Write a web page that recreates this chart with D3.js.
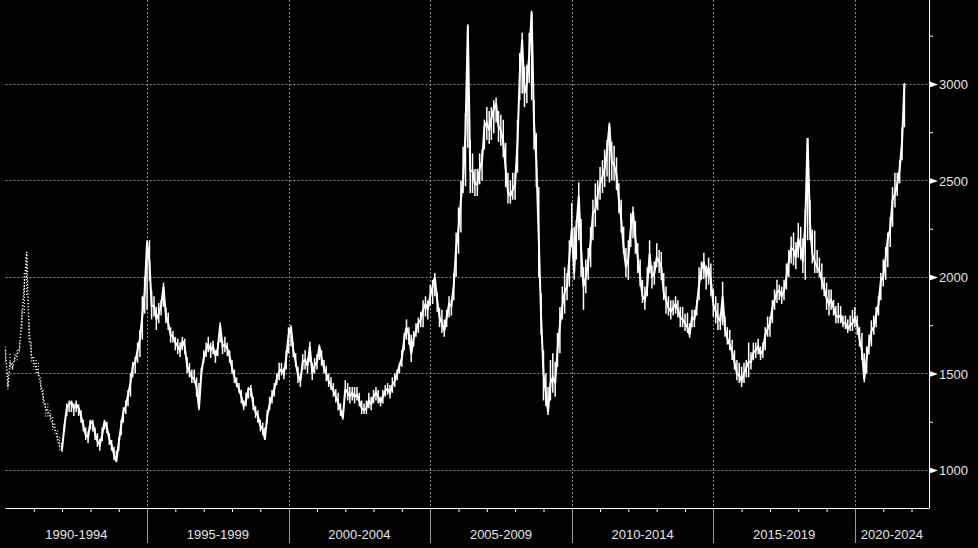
<!DOCTYPE html>
<html><head><meta charset="utf-8">
<script src="https://cdn.jsdelivr.net/npm/d3@7"></script>
<style>html,body{margin:0;padding:0;background:#000;overflow:hidden}</style>
</head><body>
<svg id="c" width="978" height="548"></svg>
<script>
// ---- data (monthly) ----
const firstMonth = "1990-01";
const monthlyPrice = [
  1620,1430,1560,1530,1580,1600,1630,1790,1960,2130,1720,1600, // 1990
  1560,1530,1500,1440,1380,1320,1300,1280,1240,1210,1170,1120, // 1991
  1110,1230,1320,1340,1350,1320,1340,1320,1280,1230,1180,1170, // 1992
  1250,1240,1190,1150,1130,1180,1250,1220,1160,1130,1080,1045, // 1993
  1140,1230,1300,1330,1390,1450,1540,1560,1620,1680,1800,1920, // 1994
  2180,2080,1850,1850,1780,1810,1850,1950,1800,1760,1700,1690, // 1995
  1660,1640,1620,1670,1640,1540,1510,1480,1470,1430,1320,1500, // 1996
  1580,1620,1650,1620,1640,1590,1630,1750,1640,1650,1630,1590, // 1997
  1530,1480,1450,1420,1380,1330,1360,1420,1420,1340,1300,1280, // 1998
  1230,1210,1160,1280,1340,1380,1420,1470,1510,1520,1500,1580, // 1999
  1700,1740,1620,1560,1490,1460,1560,1570,1540,1640,1500,1540, // 2000
  1560,1640,1580,1530,1500,1460,1440,1410,1380,1350,1310,1270, // 2001
  1420,1400,1380,1400,1380,1390,1360,1320,1310,1320,1360,1340, // 2002
  1380,1400,1380,1350,1380,1410,1420,1400,1440,1460,1500,1540, // 2003
  1580,1680,1740,1700,1600,1680,1720,1760,1780,1830,1860,1830, // 2004
  1900,1950,2000,1880,1790,1760,1720,1790,1860,1850,1960,2150, // 2005
  2250,2400,2500,2750,3300,2550,2550,2480,2480,2560,2600,2780, // 2006
  2800,2760,2820,2870,2900,2780,2760,2700,2560,2440,2420,2450, // 2007
  2480,2700,3050,3230,2950,3000,3150,3370,2800,2600,2200,1800, // 2008
  1500,1400,1300,1450,1480,1450,1620,1750,1850,1920,1950,2100, // 2009
  2250,2020,2250,2420,2150,1950,2000,2080,2180,2330,2350,2420, // 2010
  2480,2520,2560,2650,2790,2600,2580,2530,2400,2300,2150,2050, // 2011
  2100,2250,2340,2200,2100,2000,1900,1880,1950,2120,2000,2020, // 2012
  2100,2080,2050,1920,1880,1840,1820,1840,1860,1830,1790,1780, // 2013
  1760,1740,1700,1790,1780,1850,1960,2040,2080,2000,2050,1980, // 2014
  1860,1820,1790,1770,1900,1730,1680,1650,1610,1560,1500,1490, // 2015
  1460,1500,1530,1560,1560,1610,1620,1640,1600,1620,1700,1730, // 2016
  1760,1840,1880,1920,1930,1900,1930,2000,2080,2150,2140,2100, // 2017
  2200,2150,2080,2280,2720,2280,2120,2080,2050,2030,1980,1940, // 2018
  1890,1860,1880,1840,1800,1790,1800,1760,1760,1730,1750,1760, // 2019
  1790,1750,1680,1620,1470,1580,1650,1720,1740,1800,1860,1980, // 2020
  2000,2100,2200,2250,2400,2430,2480,2560,2700,3000            // 2021
];
// lowest and highest daily quote seen in each month
const monthlyLow = [
  1560,1415,1520,1520,1560,1560,1610,1730,1810,1900,1660,1560, // 1990
  1520,1500,1480,1415,1345,1275,1275,1260,1210,1190,1140,1095, // 1991
  1095,1200,1280,1300,1300,1280,1300,1280,1245,1200,1155,1140, // 1992
  1210,1200,1155,1120,1100,1150,1210,1190,1130,1100,1050,1040, // 1993
  1100,1180,1245,1290,1330,1380,1480,1500,1555,1585,1675,1810, // 1994
  1830,1980,1780,1795,1725,1760,1800,1845,1760,1725,1660,1660, // 1995
  1620,1600,1585,1620,1600,1500,1480,1450,1450,1380,1310,1470, // 1996
  1555,1585,1610,1580,1600,1555,1590,1660,1600,1610,1590,1555, // 1997
  1500,1450,1430,1400,1345,1310,1330,1370,1380,1310,1270,1245, // 1998
  1200,1180,1155,1245,1310,1345,1380,1440,1465,1490,1470,1520, // 1999
  1605,1640,1585,1535,1450,1430,1520,1520,1500,1560,1465,1500, // 2000
  1520,1570,1540,1500,1460,1430,1415,1380,1350,1310,1280,1260, // 2001
  1380,1360,1345,1360,1345,1360,1330,1290,1290,1290,1320,1310, // 2002
  1345,1360,1345,1330,1345,1380,1390,1370,1400,1430,1465,1500, // 2003
  1535,1620,1675,1650,1560,1640,1690,1710,1740,1740,1795,1780, // 2004
  1850,1860,1900,1820,1740,1710,1690,1740,1790,1800,1880,2000, // 2005
  2120,2230,2435,2470,2670,2435,2435,2420,2420,2480,2500,2660, // 2006
  2710,2690,2710,2745,2800,2700,2680,2620,2465,2380,2380,2400, // 2007
  2400,2540,2915,2950,2880,2900,3005,2915,2660,2465,2000,1700, // 2008
  1360,1330,1285,1360,1400,1380,1535,1605,1780,1810,1880,1950, // 2009
  2155,1985,2090,2190,2000,1830,1915,1985,2050,2190,2260,2345, // 2010
  2400,2435,2465,2520,2490,2500,2500,2450,2330,2230,2120,2000, // 2011
  1985,2155,2200,2120,2020,1950,1865,1830,1900,2020,1940,1960, // 2012
  2050,2020,1985,1880,1810,1800,1780,1800,1810,1790,1740,1740, // 2013
  1720,1710,1685,1740,1740,1800,1880,1985,1990,1935,1960,1900, // 2014
  1795,1760,1725,1725,1750,1690,1650,1620,1570,1520,1465,1450, // 2015
  1430,1450,1480,1480,1520,1570,1580,1600,1570,1580,1620,1690, // 2016
  1690,1760,1830,1865,1880,1860,1880,1935,2000,2070,2060,2040, // 2017
  2100,2090,2020,1985,2190,2190,2070,2020,2020,2000,1935,1900, // 2018
  1830,1800,1830,1800,1760,1760,1760,1740,1730,1710,1720,1720, // 2019
  1740,1700,1640,1570,1455,1500,1600,1640,1700,1740,1800,1880, // 2020
  1950,1985,2050,2155,2260,2360,2420,2485,2605,2775            // 2021
];
const monthlyHigh = [
  1640,1500,1600,1555,1600,1620,1660,1830,2020,2130,1760,1660, // 1990
  1585,1570,1555,1480,1415,1345,1345,1310,1275,1240,1205,1170, // 1991
  1140,1240,1345,1360,1360,1345,1360,1340,1310,1260,1220,1200, // 1992
  1260,1260,1220,1190,1160,1220,1260,1250,1190,1155,1120,1100, // 1993
  1170,1260,1325,1360,1415,1500,1560,1585,1660,1725,1900,2000, // 1994
  2190,2190,1930,1900,1845,1865,1880,1970,1840,1815,1740,1720, // 1995
  1690,1680,1660,1690,1680,1585,1555,1520,1520,1480,1450,1530, // 1996
  1620,1660,1690,1660,1670,1620,1660,1765,1670,1690,1660,1620, // 1997
  1570,1520,1480,1450,1415,1360,1400,1430,1440,1380,1330,1310, // 1998
  1260,1245,1220,1310,1380,1415,1450,1500,1555,1555,1530,1620, // 1999
  1740,1750,1660,1605,1535,1500,1600,1620,1580,1665,1555,1580, // 2000
  1600,1650,1620,1570,1540,1500,1480,1450,1420,1400,1345,1310, // 2001
  1465,1450,1430,1430,1430,1430,1400,1360,1345,1360,1400,1380, // 2002
  1415,1430,1415,1380,1415,1440,1450,1440,1480,1500,1520,1555, // 2003
  1620,1710,1780,1740,1700,1720,1760,1790,1820,1880,1900,1880, // 2004
  1960,1985,2020,1920,1840,1830,1780,1830,1900,1880,2020,2230, // 2005
  2360,2500,2675,2850,3310,2710,2640,2560,2560,2640,2660,2815, // 2006
  2880,2860,2880,2915,2930,2860,2840,2815,2695,2540,2500,2540, // 2007
  2540,2815,3160,3265,3090,3100,3265,3380,2915,2745,2465,1915, // 2008
  1620,1500,1430,1570,1605,1560,1710,1845,1950,2050,2020,2190, // 2009
  2385,2260,2295,2490,2300,2050,2090,2150,2260,2400,2485,2500, // 2010
  2570,2605,2660,2710,2800,2700,2680,2620,2485,2400,2260,2150, // 2011
  2190,2330,2365,2290,2175,2090,1985,1950,2050,2190,2060,2080, // 2012
  2175,2140,2130,2020,1950,1900,1880,1880,1900,1880,1845,1845, // 2013
  1810,1815,1760,1830,1830,1880,2050,2080,2125,2060,2100,2070, // 2014
  1935,1900,1865,1810,1975,1795,1740,1725,1675,1620,1570,1555, // 2015
  1535,1555,1570,1660,1610,1660,1660,1680,1640,1660,1740,1795, // 2016
  1795,1880,1935,1985,1960,1950,1985,2070,2140,2210,2230,2180, // 2017
  2280,2260,2200,2350,2720,2400,2245,2240,2140,2100,2070,2000, // 2018
  1970,1935,1935,1880,1850,1865,1850,1800,1800,1780,1800,1830, // 2019
  1845,1800,1740,1710,1605,1640,1700,1775,1800,1845,1900,2020, // 2020
  2090,2155,2230,2310,2465,2540,2540,2605,2775,3005            // 2021
];
const sparseUntil = "1992-01";          // earlier quotes are drawn as dots
const xDomain = ["1990-01-01", "2022-07-26"];
const yDomain = [803, 3435];
const yLabelTicks = [1000, 1500, 2000, 2500, 3000];
const yMinorTicks = [1250, 1750, 2250, 2750, 3250];
const periodStarts = ["1990", "1995", "2000", "2005", "2010", "2015", "2020"];
const periodLabels = ["1990-1994", "1995-1999", "2000-2004", "2005-2009", "2010-2014", "2015-2019", "2020-2024"];

// ---- build ----
const W = 978, H = 548;
const left = 5.5, right = 929, bottom = 508;
const svg = d3.select("#c");
svg.append("rect").attr("width", W).attr("height", H).attr("fill", "#000");

const pDay = d3.timeParse("%Y-%m-%d"), pMon = d3.timeParse("%Y-%m"), pYear = d3.timeParse("%Y");
const x = d3.scaleTime().domain(xDomain.map(pDay)).range([left, 927.5]);
const y = d3.scaleLinear().domain(yDomain).range([bottom, 0]);

const start = pMon(firstMonth);
const data = monthlyPrice.map((v, i) => ({
  date: d3.timeMonth.offset(start, i), value: v, lo: monthlyLow[i], hi: monthlyHigh[i]
}));
const cut = pMon(sparseUntil);

// grid
const grid = svg.append("g");
grid.selectAll("line.h").data(yLabelTicks).join("line")
  .attr("x1", left).attr("x2", right)
  .attr("y1", d => Math.round(y(d)) + 0.5).attr("y2", d => Math.round(y(d)) + 0.5)
  .attr("stroke", "#8a8a8a").attr("stroke-width", 1).attr("stroke-dasharray", "2,2");
const seps = periodStarts.slice(1).map(pYear);
grid.selectAll("line.v").data(seps).join("line")
  .attr("x1", d => Math.round(x(d)) + 0.5).attr("x2", d => Math.round(x(d)) + 0.5)
  .attr("y1", 0).attr("y2", bottom)
  .attr("stroke", "#8a8a8a").attr("stroke-width", 1).attr("stroke-dasharray", "2,2");
grid.selectAll("line.s").data(seps).join("line")
  .attr("x1", d => Math.round(x(d)) + 0.5).attr("x2", d => Math.round(x(d)) + 0.5)
  .attr("y1", bottom).attr("y2", 543)
  .attr("stroke", "#9a9a9a").attr("stroke-width", 1);

// series: early sparse quotes as dots
const early = data.filter(d => d.date <= cut);
const line = d3.line().x(d => x(d.date)).y(d => y(d.value));
svg.append("path").datum(early)
  .attr("d", line).attr("fill", "none").attr("stroke", "#fff")
  .attr("stroke-width", 1.5).attr("stroke-dasharray", "1.2,2");
svg.append("g").selectAll("line").data(early).join("line")
  .attr("x1", d => x(d.date)).attr("x2", d => x(d.date))
  .attr("y1", d => y(d.hi)).attr("y2", d => y(d.lo))
  .attr("stroke", "#fff").attr("stroke-width", 1.2).attr("stroke-dasharray", "1,2");

// monthly path + intra-month swings (high to low) as verticals
const main = data.filter(d => d.date >= cut);
svg.append("path").datum(main)
  .attr("d", line).attr("fill", "none").attr("stroke", "#fff")
  .attr("stroke-width", 2).attr("stroke-linejoin", "miter").attr("stroke-miterlimit", 3);
svg.append("g").selectAll("line").data(main).join("line")
  .attr("x1", d => x(d.date)).attr("x2", d => x(d.date))
  .attr("y1", d => y(d.hi)).attr("y2", d => y(d.lo))
  .attr("stroke", "#fff").attr("stroke-width", 1.5);

// x axis (year ticks)
const years = d3.timeYear.range(pYear("1991"), pYear("2023")).filter(d => d.getFullYear() % 5 !== 0);
const xAxis = d3.axisBottom(x).tickValues(years).tickSize(4).tickFormat("");
const gx = svg.append("g").attr("transform", `translate(0,${bottom})`).call(xAxis);
gx.select(".domain").attr("d", `M${left},0.5H${right}`).attr("stroke", "#fff");
gx.selectAll(".tick line").attr("stroke", "#fff");

// period labels
const bounds = periodStarts.map(pYear).map(d => x(d)).concat([right]);
svg.append("g").selectAll("text").data(periodLabels).join("text")
  .attr("x", (d, i) => (bounds[i] + bounds[i + 1]) / 2)
  .attr("y", 539)
  .attr("text-anchor", "middle")
  .attr("fill", "#e6e6e6")
  .attr("font-family", "Liberation Sans, Arial, sans-serif")
  .attr("font-size", 13)
  .text(d => d);

// y axis
const yAxis = d3.axisRight(y).tickValues(yLabelTicks).tickSize(0).tickPadding(10).tickFormat(d3.format("d"));
const gy = svg.append("g").attr("transform", `translate(${right},0)`).call(yAxis);
gy.select(".domain").attr("d", `M0.5,0V${bottom + 0.5}`).attr("stroke", "#fff");
gy.selectAll(".tick text").attr("fill", "#e6e6e6")
  .attr("font-family", "Liberation Sans, Arial, sans-serif").attr("font-size", 13)
  .attr("dy", "0.35em");
gy.selectAll(".tick").append("path").attr("d", "M0.5,-3L9,0L0.5,3Z").attr("fill", "#fff");
const yMinor = d3.axisRight(y).tickValues(yMinorTicks).tickSize(4).tickFormat("");
const gym = svg.append("g").attr("transform", `translate(${right},0)`).call(yMinor);
gym.select(".domain").remove();
gym.selectAll(".tick line").attr("stroke", "#fff");
</script>
</body></html>
